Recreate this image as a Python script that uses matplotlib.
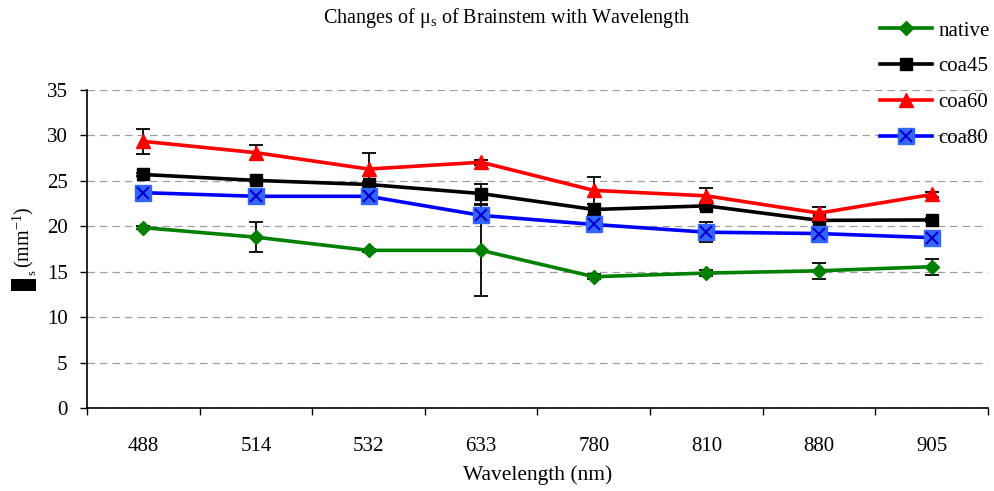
import matplotlib
matplotlib.use("Agg")
import matplotlib.pyplot as plt
from matplotlib.patches import Rectangle

plt.rcParams['font.family'] = ['Liberation Serif', 'DejaVu Sans']
plt.rcParams['mathtext.fontset'] = 'custom'
plt.rcParams['mathtext.rm'] = 'Liberation Serif'
plt.rcParams['mathtext.it'] = 'Liberation Serif:italic'

wavelengths = ['488', '514', '532', '633', '780', '810', '880', '905']

native = [19.85, 18.8, 17.35, 17.35, 14.45, 14.85, 15.1, 15.55]
coa45 = [25.7, 25.05, 24.6, 23.6, 21.85, 22.25, 20.65, 20.7]
coa60 = [29.35, 28.1, 26.3, 27.05, 23.95, 23.35, 21.45, 23.5]
coa80 = [23.7, 23.3, 23.3, 21.2, 20.2, 19.35, 19.2, 18.75]

native_err = [0.2, 1.65, 0.2, 5.0, 0.3, 0.3, 0.9, 0.9]
coa45_err = [0.2, 0.2, 0.3, 1.1, 0.6, 0.3, 0.2, 0.2]
coa60_err = [1.4, 0.8, 1.8, 0.3, 1.5, 0.9, 0.7, 0.3]
coa80_err = [0.2, 0.2, 0.2, 0.2, 0.3, 1.1, 0.2, 0.2]

W, H = 995, 491
fig = plt.figure(figsize=(W / 100, H / 100), dpi=100)
ax = fig.add_axes([87 / W, (H - 408) / H, (988 - 87) / W, 318 / H])

x = list(range(len(wavelengths)))

# error bars first
for vals, errs in [(native, native_err), (coa45, coa45_err), (coa60, coa60_err), (coa80, coa80_err)]:
    ax.errorbar(x, vals, yerr=errs, fmt='none', ecolor='black', elinewidth=1.3,
                capsize=5, capthick=1.3, zorder=2)

lw = 2.6
h1, = ax.plot(x, native, color='#008000', lw=lw, marker='D', ms=7.5, zorder=3)
h2, = ax.plot(x, coa45, color='black', lw=lw, marker='s', ms=8, zorder=3)
h3, = ax.plot(x, coa60, color='#FF0000', lw=lw, marker='^', ms=10, zorder=3)
h4a, = ax.plot(x, coa80, color='#0000FF', lw=lw, marker='s', ms=12,
               markerfacecolor='#3366FF', markeredgecolor='#3366FF', zorder=3)
h4b, = ax.plot(x, coa80, ls='none', marker='x', ms=9, mew=1.5, color='#0000CC', zorder=4)

ax.set_xlim(-0.5, len(wavelengths) - 0.5)
ax.set_ylim(0, 35)
ax.set_yticks(range(0, 36, 5))
ax.set_xticks(x)
ax.set_xticklabels(wavelengths)
ax.set_xticks([i - 0.5 for i in range(len(wavelengths) + 1)], minor=True)
ax.tick_params(axis='x', which='major', length=0, pad=21, labelsize=15)
ax.tick_params(axis='x', which='minor', length=5, direction='out', width=1)
ax.tick_params(axis='y', length=5, direction='out', width=1, pad=9, labelsize=15)

ax.grid(axis='y', ls=(0, (6, 4)), color='#a0a0a0', lw=0.9)
ax.set_axisbelow(True)
for s in ['top', 'right']:
    ax.spines[s].set_visible(False)
for s in ['left', 'bottom']:
    ax.spines[s].set_linewidth(1.2)

fig.text(507 / W, 1 - 18 / H, r'Changes of μ$_\mathregular{s}$ of Brainstem with Wavelength',
         ha='center', va='center', fontsize=14.5)
fig.text(538 / W, 1 - 475 / H, 'Wavelength (nm)', ha='center', va='center', fontsize=15.5)

# y label: black block, subscript s, unit
fig.patches.append(Rectangle((11 / W, 1 - 291 / H), 25 / W, 12 / H, transform=fig.transFigure,
                             facecolor='black', edgecolor='none'))
fig.text(33 / W, 1 - 273 / H, 's', rotation=90, ha='center', va='center', fontsize=9)
fig.text(23 / W, 1 - 237 / H, r'(mm$^\mathregular{-1}$)', rotation=90, ha='center', va='center',
         fontsize=14.5)

fig.legend([h1, h2, h3, (h4a, h4b)], ['native', 'coa45', 'coa60', 'coa80'],
           loc='upper left', bbox_to_anchor=(880 / W, 1 - 21 / H), frameon=False,
           fontsize=15, handlelength=2.5, handletextpad=0.3, labelspacing=0.78,
           borderaxespad=0, borderpad=0)

fig.savefig('out.png', dpi=100)
